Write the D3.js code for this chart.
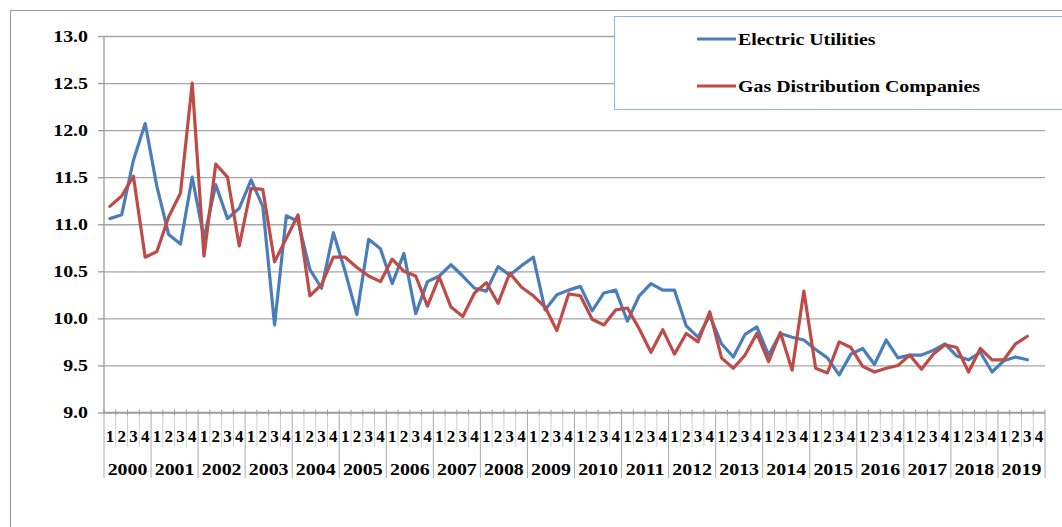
<!DOCTYPE html>
<html>
<head>
<meta charset="utf-8">
<script src="https://cdn.jsdelivr.net/npm/d3@7"></script>
<style>
  html, body { margin: 0; padding: 0; background: #fff; }
  svg { display: block; }
</style>
</head>
<body>
<svg id="chart" width="1062" height="527"></svg>
<script>
const years = d3.range(2000, 2020).map(String);
const quarters = ["1", "2", "3", "4"];
const yTicks = [9.0, 9.5, 10.0, 10.5, 11.0, 11.5, 12.0, 12.5, 13.0];
const seriesNames = ["Electric Utilities", "Gas Distribution Companies"];
const electric = [
  11.06, 11.10, 11.68, 12.07, 11.40, 10.89, 10.79, 11.50,
  10.85, 11.42, 11.06, 11.17, 11.47, 11.19, 9.93, 11.09,
  11.03, 10.52, 10.32, 10.91, 10.50, 10.04, 10.84, 10.74,
  10.37, 10.69, 10.05, 10.39, 10.45, 10.57, 10.45, 10.32,
  10.29, 10.55, 10.46, 10.56, 10.65, 10.09, 10.25, 10.30,
  10.34, 10.08, 10.27, 10.30, 9.97, 10.24, 10.37, 10.30,
  10.30, 9.92, 9.80, 10.03, 9.73, 9.59, 9.83, 9.91,
  9.61, 9.84, 9.80, 9.77, 9.67, 9.58, 9.40, 9.62,
  9.68, 9.51, 9.77, 9.58, 9.61, 9.61, 9.66, 9.73,
  9.60, 9.56, 9.64, 9.43, 9.55, 9.59, 9.56, null
];
const gas = [
  11.19, 11.30, 11.51, 10.65, 10.71, 11.08, 11.33, 12.50,
  10.66, 11.64, 11.50, 10.77, 11.38, 11.37, 10.60, 10.85,
  11.10, 10.24, 10.36, 10.65, 10.65, 10.54, 10.45, 10.39,
  10.63, 10.50, 10.45, 10.13, 10.44, 10.12, 10.02, 10.27,
  10.38, 10.16, 10.48, 10.33, 10.24, 10.12, 9.87, 10.26,
  10.24, 9.99, 9.93, 10.09, 10.11, 9.89, 9.64, 9.88,
  9.62, 9.84, 9.75, 10.07, 9.58, 9.47, 9.61, 9.84,
  9.54, 9.85, 9.45, 10.29, 9.47, 9.42, 9.75, 9.69,
  9.49, 9.43, 9.47, 9.50, 9.61, 9.46, 9.62, 9.72,
  9.69, 9.43, 9.68, 9.56, 9.56, 9.73, 9.81, null
];
const colors = ["#4A7EBB", "#BE4B48"];

const FONT = "Liberation Serif";
const FS = 17;
const SX = 1.17; // horizontal stretch of the reference text

const categories = [];
years.forEach(y => quarters.forEach(q => categories.push(y + "-" + q)));

const svg = d3.select("#chart");
const L = 104, R = 1045, T = 36, B = 412.5;

function addText(parent, x, y, str, anchor, sx) {
  return parent.append("text")
    .attr("transform", `translate(${x},${y}) scale(${sx || SX},1)`)
    .attr("font-family", FONT).attr("font-weight", "bold").attr("font-size", FS)
    .attr("fill", "#000").attr("text-anchor", anchor || "start").text(str);
}

// outer chart border
svg.append("rect").attr("x", 10.5).attr("y", 10.5).attr("width", 1200).attr("height", 700)
  .attr("fill", "none").attr("stroke", "#9a9a9a").attr("stroke-width", 1);

const x = d3.scaleBand().domain(categories).range([L, R]).paddingInner(0).paddingOuter(0);
const y = d3.scaleLinear().domain([9, 13]).range([B, T]);
const bw = x.bandwidth();

// gridlines
const grid = svg.append("g").attr("transform", `translate(${L},0)`)
  .call(d3.axisLeft(y).tickValues(yTicks).tickSize(-(R - L)).tickFormat(""));
grid.select(".domain").remove();
grid.selectAll("line").attr("stroke", "#a6a6a6").attr("stroke-width", 1.3);

// y axis
const yAxis = svg.append("g").attr("transform", `translate(${L},0)`)
  .call(d3.axisLeft(y).tickValues(yTicks).tickSize(6).tickPadding(10).tickFormat(d3.format(".1f")));
yAxis.attr("font-family", FONT).attr("font-size", FS).attr("font-weight", "bold");
yAxis.select(".domain").attr("stroke", "#9a9a9a").attr("stroke-width", 1.3).attr("d", `M0,${T}V${B}`);
yAxis.selectAll("line").attr("stroke", "#9a9a9a").attr("stroke-width", 1.3);
yAxis.selectAll("text")
  .attr("x", -16 / SX)
  .attr("transform", `scale(${SX},1)`)
  .attr("font-family", FONT).attr("font-weight", "bold").attr("font-size", FS)
  .attr("fill", "#000");

// x axis line
svg.append("line").attr("x1", L).attr("x2", R).attr("y1", B).attr("y2", B)
  .attr("stroke", "#9a9a9a").attr("stroke-width", 1.3);

// category boundaries (multi-level axis)
const bounds = categories.map(c => x(c)).concat([x(categories[categories.length - 1]) + bw]);
const xa = svg.append("g");
categories.forEach(c => addText(xa, x(c) + bw / 2, 442, c.split("-")[1], "middle", 1.0));
years.forEach(yr => addText(xa, x(yr + "-1") + bw * 2, 475, yr, "middle"));
bounds.forEach((bx, i) => {
  xa.append("line").attr("x1", bx).attr("x2", bx).attr("y1", B - 3).attr("y2", B + 3)
    .attr("stroke", "#9a9a9a").attr("stroke-width", 1);
  const isYear = (i % 4 === 0);
  xa.append("line").attr("x1", bx).attr("x2", bx).attr("y1", B + 3).attr("y2", isYear ? 478 : 447)
    .attr("stroke", isYear ? "#aaaaaa" : "#cfcfcf").attr("stroke-width", 1);
});

// lines
const line = d3.line()
  .defined(d => d.v !== null)
  .x(d => x(d.c) + bw / 2)
  .y(d => y(d.v));
[electric, gas].forEach((arr, k) => {
  const data = arr.map((v, i) => ({ c: categories[i], v }));
  svg.append("path").datum(data).attr("d", line)
    .attr("fill", "none").attr("stroke", colors[k]).attr("stroke-width", 3.2)
    .attr("stroke-linejoin", "round").attr("stroke-linecap", "round");
});

// legend
const lg = svg.append("g");
lg.append("rect").attr("x", 614.5).attr("y", 16.5).attr("width", 600).attr("height", 93)
  .attr("fill", "#fff").attr("stroke", "#8EB4E3").attr("stroke-width", 1);
seriesNames.forEach((n, k) => {
  const ly = 39 + k * 47;
  lg.append("line").attr("x1", 697).attr("x2", 736).attr("y1", ly).attr("y2", ly)
    .attr("stroke", colors[k]).attr("stroke-width", 3.2);
  addText(lg, 738, ly + 6, n, "start");
});
</script>
</body>
</html>
